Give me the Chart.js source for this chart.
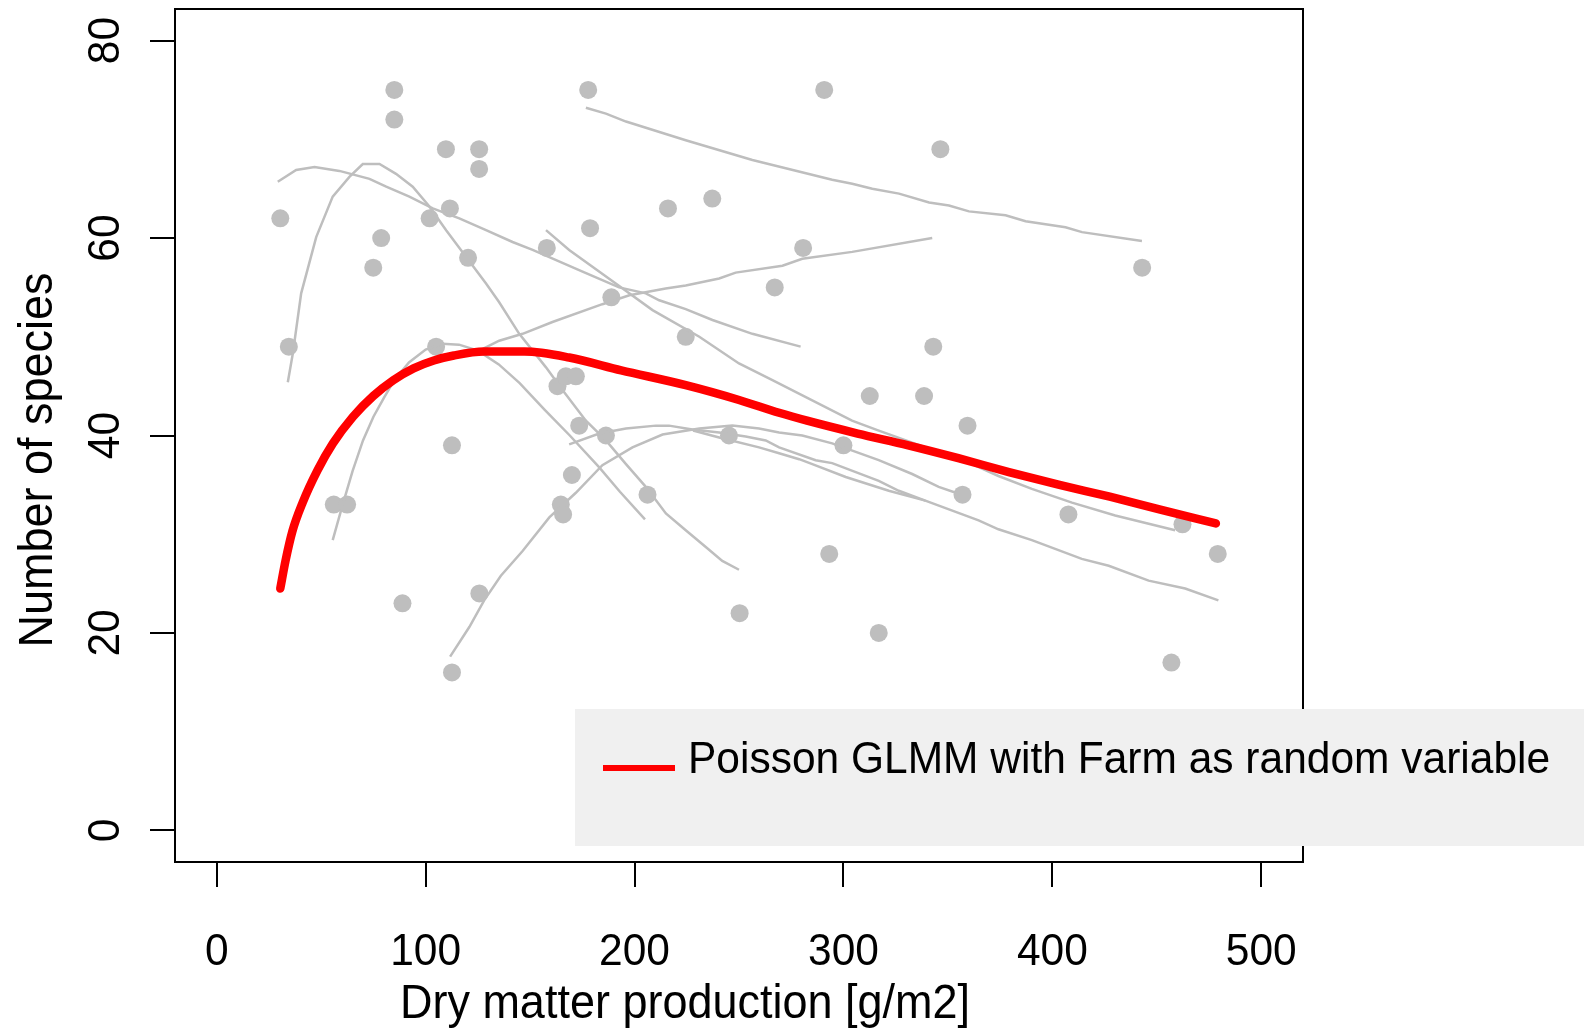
<!DOCTYPE html>
<html>
<head>
<meta charset="utf-8">
<title>Number of species vs dry matter production</title>
<script src="https://cdn.jsdelivr.net/npm/chart.js@4.4.0/dist/chart.umd.min.js"></script>
<style>
  html, body { margin: 0; padding: 0; background: #fff; }
  #wrap { width: 1584px; height: 1032px; }
</style>
</head>
<body>
<div id="wrap"><canvas id="chart" width="1584" height="1032"></canvas></div>
<script>
(function () {
    'use strict';

    // Axis ticks --------------------------------------------------------
    const xTicks = [0, 100, 200, 300, 400, 500];
    const yTicks = [0, 20, 40, 60, 80];

    // Observed plots (dry matter g/m2, species count) --------------------
    const obsProduction = [30.4, 34.5, 85, 85, 78.7, 74.9, 56, 62.4, 88.9, 101.9, 105, 109.7, 111.6, 120.3,
        112.6, 112.6, 125.6, 125.6, 125.7, 158, 177.8, 178.7, 188.9, 163.1, 167.1, 171.9, 173.5, 170,
        164.7, 165.8, 186.3, 206.2, 216, 224.5, 237.2, 245.2, 250.3, 267.1, 280.7, 290.8, 293.2, 300,
        312.6, 316.9, 338.6, 343, 346.4, 357, 359.4, 407.7, 443, 457, 462.3, 479.2];
    const obsSpecies = [62, 49, 75, 72, 60, 57, 33, 33, 23, 62, 49, 69, 63, 58,
        39, 16, 69, 67, 24, 59, 75, 61, 54, 45, 46, 46, 41, 36,
        33, 32, 40, 34, 63, 50, 64, 40, 22, 55, 59, 75, 28, 39,
        44, 20, 44, 49, 69, 34, 41, 32, 57, 17, 31, 28];

    // Poisson GLMM fitted curve ------------------------------------------
    const glmmProduction = [30.4, 32.9, 36.2, 41.1, 48.3, 55.6, 65.2, 74.9, 84.5, 94.2, 103.9, 113.5, 128,
        147.3, 168.7, 193.6, 224.5, 250, 269.2, 282.6, 306.8, 331, 355, 379.2, 403.4, 427.5, 451.7, 478.3];
    const glmmSpecies = [24.5, 27.3, 30.3, 33.2, 36.5, 39.2, 41.9, 44.0, 45.6, 46.8, 47.6, 48.1, 48.5,
        48.5, 47.9, 46.6, 45.1, 43.6, 42.3, 41.5, 40.2, 39.0, 37.7, 36.3, 35.0, 33.8, 32.5, 31.1];

    // Per-farm smoothers [production, species] ---------------------------
    const farmA = [[29.2, 65.7], [38, 66.9], [46.8, 67.2], [58.7, 66.8], [73.1, 66.0], [81.1, 65.2], [92.2, 64.2],
        [103.4, 63.0], [116.1, 62.0], [128.9, 60.8], [141.6, 59.6], [151.2, 58.8], [175.1, 56.6], [192.6, 55.0],
        [205.4, 54.4], [211.8, 53.7], [224.5, 52.8], [237.3, 51.7], [256.4, 50.3], [279.5, 49.0]];
    const farmB = [[34, 45.4], [36.4, 48.3], [40.4, 54.4], [47.6, 60.1], [55.5, 64.2], [63.5, 66.2], [69.9, 67.5],
        [77.9, 67.5], [85.8, 66.5], [93.8, 65.2], [101.8, 63.2], [109.8, 60.8], [119.3, 58.1], [128.9, 55.4],
        [135.2, 53.5], [144.8, 50.3], [157.6, 46.9], [165.5, 44.6], [176.7, 41.5], [186.3, 39.5], [195.9, 37.1],
        [205.4, 34.8], [215, 32.1], [224.5, 30.4], [234.1, 28.7], [242, 27.3], [250, 26.4]];
    const farmC = [[55.5, 29.4], [60, 32.8], [65, 36.4], [70, 39.5], [75, 41.9], [80, 43.8], [85, 45.6],
        [92, 47.4], [100, 48.7], [108, 49.3], [116, 49.2], [125, 48.6], [135, 47.2], [145, 45.3], [157, 42.6],
        [169, 40.0], [183, 36.8], [193, 34.3], [205, 31.5]];
    const farmD = [[111.7, 17.6], [120.9, 20.6], [128, 23.3], [136, 25.8], [146.4, 28.3], [159.2, 31.7],
        [171.9, 34.2], [184.6, 37.0], [199, 38.8], [213.4, 40.1], [231, 40.7], [246.8, 41.0], [259.6, 40.7],
        [269.2, 40.3], [280.3, 40.0], [294.6, 39.2], [316.9, 37.5], [332.9, 36.1], [345.6, 34.8], [355.2, 34.1]];
    const farmE = [[168.7, 39.1], [183.1, 40.2], [195.9, 40.7], [210.2, 41.0], [216.5, 41.0], [227.7, 40.6],
        [240.5, 40.3], [253.2, 39.9], [262.8, 39.5], [269.2, 38.8], [286.7, 37.5], [294.6, 37.2], [316.9, 35.4],
        [326.5, 34.4], [339.2, 33.4], [364.7, 31.4], [374.2, 30.5], [390.2, 29.4], [414.1, 27.5], [427, 26.8],
        [446.1, 25.3], [463.6, 24.5], [479.5, 23.3]];
    const farmF = [[228, 40.5], [240.5, 39.8], [259.6, 38.8], [269.2, 38.2], [278.8, 37.6], [285.1, 37.1],
        [301.1, 35.8], [321.7, 34.4], [339.2, 33.4]];
    const farmG = [[157.6, 60.8], [168.7, 58.8], [191, 55.4], [208.6, 52.7], [231, 50.0], [250, 47.3],
        [266, 45.6], [304.1, 41.5], [316.9, 40.5], [361.6, 37.1], [374.2, 35.9], [390.2, 34.6], [409.4, 33.2],
        [430.1, 31.9], [458.8, 30.4]];
    const farmH = [[122, 48.2], [125.7, 48.6], [135.2, 49.6], [146.4, 50.3], [160.7, 51.5], [184.6, 53.3],
        [197.5, 54.2], [214.9, 54.9], [224.5, 55.2], [240.5, 55.9], [248.4, 56.5], [270.8, 57.2], [280.3, 57.9],
        [304.2, 58.6], [342.5, 60.0]];
    const farmI = [[176.7, 73.2], [186.3, 72.6], [195.9, 71.8], [224.5, 69.9], [256.4, 67.9], [294.6, 65.9],
        [304.2, 65.5], [313.8, 65.0], [326.6, 64.5], [341, 63.6], [350.5, 63.3], [360.1, 62.7], [377.6, 62.3],
        [387.2, 61.7], [406.3, 61.1], [414.2, 60.6], [442.9, 59.7]];
    const farmCurves = [farmA, farmB, farmC, farmD, farmE, farmF, farmG, farmH, farmI];

    const legendLabel = 'Poisson GLMM with Farm as random variable';
    const xTitle = 'Dry matter production [g/m2]';
    const yTitle = 'Number of species';

    const GREY = '#BEBEBE';
    const FONT = '"Liberation Sans", Arial, Helvetica, sans-serif';
    const TICK_FONT = '42.5px ' + FONT;
    const TITLE_FONT = '45px ' + FONT;
    const STRETCH = 1.06; // R's Helvetica renders a touch taller than Arial

    const datasets = [
        {
            type: 'line',
            label: legendLabel,
            data: glmmProduction.map((x, i) => ({ x, y: glmmSpecies[i] })),
            borderColor: '#FF0000',
            borderWidth: 8.5,
            borderCapStyle: 'round',
            borderJoinStyle: 'round',
            cubicInterpolationMode: 'monotone',
            pointRadius: 0,
            fill: false,
        },
        ...farmCurves.map((c, k) => ({
            type: 'line',
            label: 'farm ' + (k + 1),
            data: c.map(([x, y]) => ({ x, y })),
            borderColor: GREY,
            borderWidth: 2.5,
            tension: 0,
            pointRadius: 0,
            fill: false,
        })),
        {
            type: 'scatter',
            label: 'plots',
            data: obsProduction.map((x, i) => ({ x, y: obsSpecies[i] })),
            backgroundColor: GREY,
            borderWidth: 0,
            pointRadius: 9,
            pointHoverRadius: 9,
        },
    ];

    const text = (ctx, str, x, y, rot, font, align) => {
        ctx.save();
        ctx.translate(x, y);
        ctx.rotate(rot);
        ctx.scale(1, STRETCH);
        ctx.font = font;
        ctx.textAlign = align;
        ctx.textBaseline = 'alphabetic';
        ctx.fillText(str, 0, 0);
        ctx.restore();
    };

    // R-style frame, rotated axis text and the grey legend box.
    const rFrame = {
        id: 'rFrame',
        afterDraw(chart) {
            const { ctx, chartArea: a, scales: { x, y } } = chart;
            ctx.save();
            ctx.strokeStyle = '#000';
            ctx.lineWidth = 2;
            ctx.strokeRect(a.left, a.top, a.right - a.left, a.bottom - a.top);

            ctx.fillStyle = '#000';
            xTicks.forEach(v => text(ctx, String(v), x.getPixelForValue(v), 965, 0, TICK_FONT, 'center'));
            yTicks.forEach(v => text(ctx, String(v), 119, y.getPixelForValue(v), -Math.PI / 2, TICK_FONT, 'center'));

            text(ctx, xTitle, 685, 1018, 0, TITLE_FONT, 'center');
            text(ctx, yTitle, 52, 460, -Math.PI / 2, TITLE_FONT, 'center');

            // legend
            ctx.fillStyle = '#F0F0F0';
            ctx.fillRect(575, 709, chart.width - 575, 137);
            ctx.strokeStyle = '#FF0000';
            ctx.lineWidth = 6;
            ctx.beginPath();
            ctx.moveTo(603, 768);
            ctx.lineTo(675, 768);
            ctx.stroke();
            ctx.fillStyle = '#000';
            text(ctx, legendLabel, 688, 773, 0, TICK_FONT, 'left');
            ctx.restore();
        },
    };

    const axisGrid = { drawOnChartArea: false, drawTicks: true, tickLength: 25, color: '#000', lineWidth: 2 };

    new Chart(document.getElementById('chart'), {
        type: 'scatter',
        data: { datasets },
        options: {
            responsive: false,
            animation: false,
            devicePixelRatio: 1,
            layout: { padding: { left: 0, top: 7, right: 281, bottom: 0 } },
            plugins: { legend: { display: false }, tooltip: { enabled: false } },
            scales: {
                x: {
                    type: 'linear', min: -20, max: 520,
                    grid: axisGrid, border: { display: false },
                    ticks: { display: false },
                    afterBuildTicks: s => { s.ticks = xTicks.map(v => ({ value: v })); },
                    afterFit: s => { s.height = 170; },
                },
                y: {
                    type: 'linear', min: -3.2, max: 83.2,
                    grid: axisGrid, border: { display: false },
                    ticks: { display: false },
                    afterBuildTicks: s => { s.ticks = yTicks.map(v => ({ value: v })); },
                    afterFit: s => { s.width = 175; },
                },
            },
        },
        plugins: [rFrame],
    });
})();
</script>
</body>
</html>
